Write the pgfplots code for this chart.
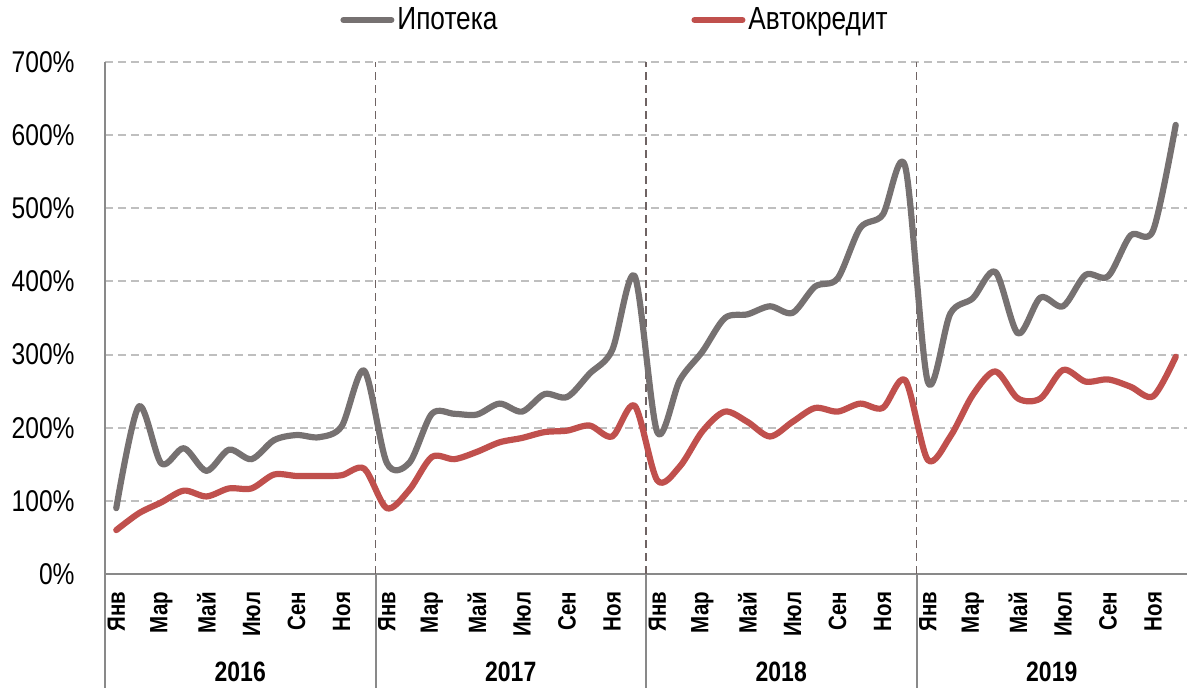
\documentclass[border=0pt]{standalone}
\usepackage{pgfplots}
\pgfplotsset{compat=1.18}
\usepackage{fontspec}
\setmainfont{Liberation Sans}[FakeStretch=0.82]
\definecolor{ipo}{HTML}{767171}
\definecolor{avto}{HTML}{C0504D}
\definecolor{gridc}{HTML}{BFBFBF}
\definecolor{sepc}{HTML}{6F6363}
\definecolor{axc}{HTML}{898989}
\begin{document}
\begin{tikzpicture}
\begin{axis}[
  at={(0,0)}, anchor=south west,
  scale only axis, width=541pt, height=256pt,
  xmin=-0.5, xmax=47.5, ymin=0, ymax=700,
  axis x line=bottom, axis y line=left,
  axis line style={-, draw=axc, line width=1pt},
  major tick length=0pt,
  xtick={0,2,...,46},
  xticklabels={Янв,Мар,Май,Июл,Сен,Ноя,Янв,Мар,Май,Июл,Сен,Ноя,Янв,Мар,Май,Июл,Сен,Ноя,Янв,Мар,Май,Июл,Сен,Ноя},
  xticklabel style={rotate=90, anchor=east, inner sep=0pt, font=\fontsize{12.5}{14}\selectfont\bfseries},
  xticklabel shift=8.8pt,
  ytick={0,100,...,700},
  yticklabels={0\%,100\%,200\%,300\%,400\%,500\%,600\%,700\%},
  yticklabel style={inner sep=0pt, font=\fontsize{15}{18}\selectfont},
  yticklabel shift=15pt,
  ymajorgrids,
  major grid style={gridc, line width=1pt, dash pattern=on 4pt off 2.5pt},
  extra x ticks={11.5,23.5,35.5},
  extra x tick labels={},
  extra x tick style={grid=major, major grid style={sepc, line width=0.8pt, dash pattern=on 4pt off 2.5pt}},
  clip=false,
  legend columns=2,
  legend style={at={(axis description cs:0.2172,1.082)}, anchor=west, draw=none, fill=none, inner sep=0pt,
    font=\fontsize{16}{19}\selectfont,
    nodes={inner sep=1.5pt},
    /tikz/every even column/.append style={column sep=95.5pt}},
  legend image code/.code={\draw[#1, line width=3pt, line cap=round] (0pt,0pt) -- (24pt,0pt);},
]
\addplot[ipo, line width=3.1pt, smooth, line cap=round, line join=round] coordinates {
(0,90) (1,229) (2,151) (3,172) (4,141) (5,170) (6,157) (7,183) (8,190) (9,187) (10,202) (11,278)
(12,152) (13,152) (14,219) (15,219) (16,218) (17,233) (18,222) (19,246) (20,242) (21,274) (22,306) (23,407)
(24,194) (25,265) (26,304) (27,350) (28,355) (29,366) (30,357) (31,393) (32,404) (33,473) (34,491) (35,557)
(36,263) (37,356) (38,377) (39,413) (40,329) (41,378) (42,366) (43,409) (44,407) (45,463) (46,470) (47,614)
};
\addlegendentry{Ипотека}
\addplot[avto, line width=3.1pt, smooth, line cap=round, line join=round] coordinates {
(0,60) (1,83) (2,98) (3,114) (4,106) (5,117) (6,117) (7,136) (8,134) (9,134) (10,135) (11,144)
(12,90) (13,115) (14,160) (15,157) (16,167) (17,180) (18,186) (19,194) (20,196) (21,203) (22,188) (23,230)
(24,128) (25,147) (26,195) (27,222) (28,208) (29,188) (30,208) (31,227) (32,222) (33,233) (34,227) (35,265)
(36,156) (37,188) (38,245) (39,277) (40,240) (41,240) (42,279) (43,263) (44,266) (45,256) (46,243) (47,297)
};
\addlegendentry{Автокредит}
\draw[axc, line width=1pt] (axis cs:-0.5,0) -- ++(0pt,-57pt);
\draw[axc, line width=1pt] (axis cs:11.5,0) -- ++(0pt,-57pt);
\draw[axc, line width=1pt] (axis cs:23.5,0) -- ++(0pt,-57pt);
\draw[axc, line width=1pt] (axis cs:35.5,0) -- ++(0pt,-57pt);
\node[font=\fontsize{14}{16}\selectfont\bfseries] at (axis cs:5.5,0) [yshift=-49pt] {2016};
\node[font=\fontsize{14}{16}\selectfont\bfseries] at (axis cs:17.5,0) [yshift=-49pt] {2017};
\node[font=\fontsize{14}{16}\selectfont\bfseries] at (axis cs:29.5,0) [yshift=-49pt] {2018};
\node[font=\fontsize{14}{16}\selectfont\bfseries] at (axis cs:41.5,0) [yshift=-49pt] {2019};
\end{axis}
\pgfresetboundingbox
\path[use as bounding box] (-52.5pt,-57pt) rectangle (541pt,287pt);
\end{tikzpicture}
\end{document}
